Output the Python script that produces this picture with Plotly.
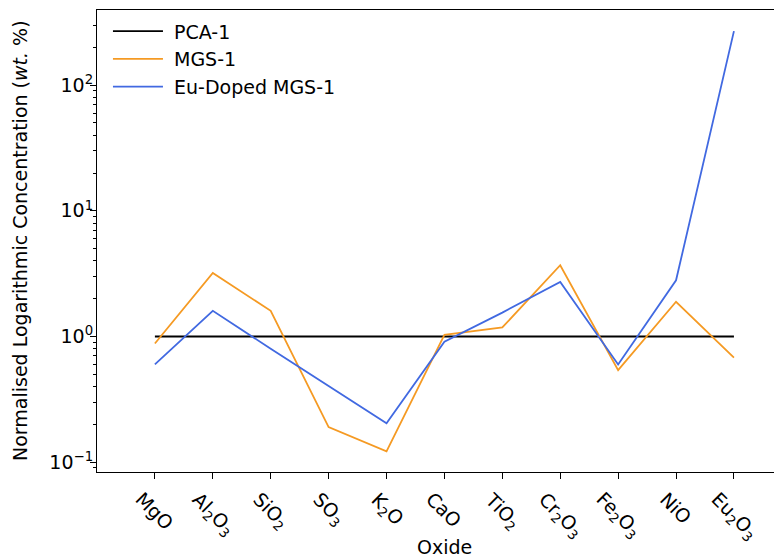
import plotly.graph_objects as go

oxides = ["MgO", "Al<sub>2</sub>O<sub>3</sub>", "SiO<sub>2</sub>", "SO<sub>3</sub>", "K<sub>2</sub>O",
          "CaO", "TiO<sub>2</sub>", "Cr<sub>2</sub>O<sub>3</sub>", "Fe<sub>2</sub>O<sub>3</sub>", "NiO",
          "Eu<sub>2</sub>O<sub>3</sub>"]
pca1 = [1, 1, 1, 1, 1, 1, 1, 1, 1, 1, 1]
mgs1 = [0.88, 3.2, 1.6, 0.19, 0.122, 1.03, 1.18, 3.69, 0.54, 1.89, 0.68]
eu_mgs1 = [0.60, 1.6, 0.80, 0.405, 0.204, 0.91, 1.55, 2.72, 0.60, 2.8, 269]
series_names = ["PCA-1", "MGS-1", "Eu-Doped MGS-1"]

x = list(range(len(oxides)))
FONT = "DejaVu Sans"
FS = 19
NB = "\u00a0"

fig = go.Figure()
fig.add_trace(go.Scatter(x=x, y=pca1, mode="lines", name=NB + series_names[0],
                         line=dict(color="#000000", width=1.8)))
fig.add_trace(go.Scatter(x=x, y=mgs1, mode="lines", name=NB + series_names[1],
                         line=dict(color="#F59A23", width=1.8)))
fig.add_trace(go.Scatter(x=x, y=eu_mgs1, mode="lines", name=NB + series_names[2],
                         line=dict(color="#4169E1", width=1.8)))

minor_vals = []
for d in [0.01, 0.1, 1, 10, 100]:
    for k in range(2, 10):
        minor_vals.append(k * d)

annotations = []
for i, lab in zip(x, oxides):
    annotations.append(dict(text=lab, xref="x", yref="paper", x=i, y=0, yshift=-13,
                            xanchor="center", yanchor="top", textangle=45,
                            showarrow=False, font=dict(size=FS)))
annotations += [
    dict(text="Oxide", xref="paper", yref="paper", x=(444.5 - 97) / 685, y=-(547 - 472) / 462,
         xanchor="center", yanchor="middle", showarrow=False, font=dict(size=FS)),
    dict(text="Normalised Logarithmic Concentration (<i>wt.</i> %)", xref="paper", yref="paper",
         x=-(97 - 20) / 685, y=0.5, xanchor="center", yanchor="middle", textangle=-90,
         showarrow=False, font=dict(size=FS)),
]

# page has an 8px body margin; figure is sized so the visible window matches
fig.update_layout(
    width=774, height=549,
    margin=dict(l=89, r=0, t=2, b=85, autoexpand=False),
    plot_bgcolor="white", paper_bgcolor="white",
    font=dict(family=FONT, size=FS, color="black"),
    showlegend=True,
    legend=dict(x=0.016, y=0.995, xanchor="left", yanchor="top",
                bgcolor="rgba(255,255,255,0)", font=dict(size=FS),
                tracegroupgap=0, itemwidth=50),
    xaxis=dict(range=[-1, 10.83], tickmode="array", tickvals=x, showticklabels=False,
               showline=True, linecolor="black", linewidth=1.2,
               mirror=True, ticks="outside", ticklen=6, tickcolor="black",
               showgrid=False, zeroline=False, automargin=False),
    yaxis=dict(type="log", range=[-1.078, 2.598], tickmode="array",
               tickvals=[0.1, 1, 10, 100],
               ticktext=["10<sup>\u22121</sup>", "10<sup>0</sup>", "10<sup>1</sup>", "10<sup>2</sup>"],
               showline=True, linecolor="black", linewidth=1.2, mirror=False,
               ticks="outside", ticklen=6, tickcolor="black", ticklabelstandoff=-7,
               minor=dict(tickvals=minor_vals, ticks="outside", ticklen=3, tickcolor="black"),
               showgrid=False, zeroline=False, tickfont=dict(size=FS), automargin=False),
    annotations=annotations,
)

fig.write_html("out.html")
